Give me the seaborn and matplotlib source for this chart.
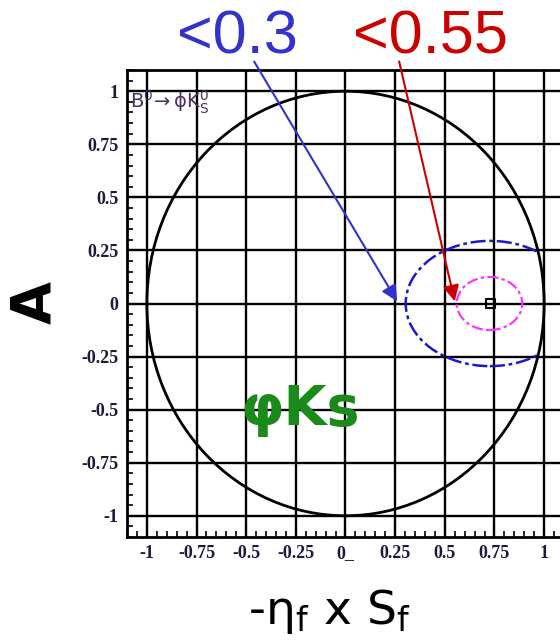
import numpy as np
import matplotlib
matplotlib.use("Agg")
import matplotlib.pyplot as plt
import seaborn as sns
from matplotlib.patches import Circle, Ellipse

# ---- data ----
tick_values = [-1, -0.75, -0.5, -0.25, 0, 0.25, 0.5, 0.75, 1]
x_tick_labels = ["-1", "-0.75", "-0.5", "-0.25", "0_", "0.25", "0.5", "0.75", "1"]
y_tick_labels = ["-1", "-0.75", "-0.5", "-0.25", "0", "0.25", "0.5", "0.75", "1"]
boundary_radius = 1.0
best_fit_x = [0.73]
best_fit_y = [0.0]
# contours: (center_x, center_y, semi_x, semi_y)
contour_blue = (0.727, 0.0, 0.424, 0.295)
contour_magenta = (0.725, 0.0, 0.165, 0.125)
# arrows: label text, label position, arrow tip
label_blue = "<0.3"
label_red = "<0.55"
arrow_blue_start = (-0.46, 1.14)
arrow_blue_tip = (0.26, 0.01)
arrow_red_start = (0.27, 1.14)
arrow_red_tip = (0.55, 0.01)

sns.set_theme(style="white")
plt.rcParams['font.family'] = ['DejaVu Sans']

fig = plt.figure(figsize=(5.6, 6.44), dpi=100)
ax = fig.add_axes([127/560, (644-537)/644, (564-127)/560, (537-70)/644])
ax.set_xlim(-1.1, 1.1)
ax.set_ylim(-1.1, 1.1)

# grid
for v in tick_values:
    ax.axvline(v, color="black", lw=1.7, zorder=1)
    ax.axhline(v, color="black", lw=1.7, zorder=1)

# boundary circle
circ = Circle((0, 0), boundary_radius, fill=False, ec="black", lw=2.0, zorder=3)
ax.add_patch(circ)
clip = Circle((0, 0), boundary_radius, transform=ax.transData)

cx, cy, sx, sy = contour_blue
eb = Ellipse((cx, cy), 2*sx, 2*sy, fill=False, ec="#1a1acc", lw=1.8,
             ls=(0, (6, 1.5, 1.5, 1.5)), zorder=2)
ax.add_patch(eb)
eb.set_clip_path(clip)

cx, cy, sx, sy = contour_magenta
em = Ellipse((cx, cy), 2*sx, 2*sy, fill=False, ec="#ff33ff", lw=1.6,
             ls=(0, (5, 1.5, 1.5, 1.5)), zorder=2)
ax.add_patch(em)

sns.scatterplot(x=best_fit_x, y=best_fit_y, ax=ax, marker="s", s=35,
                facecolor="none", edgecolor="black", linewidth=1.5, zorder=4)

# ticks
ax.set_xticks(tick_values)
ax.set_yticks(tick_values)
ax.set_xticklabels(x_tick_labels)
ax.set_yticklabels(y_tick_labels)
ax.set_xticks(np.arange(-1.1, 1.101, 0.05), minor=True)
ax.set_yticks(np.arange(-1.1, 1.101, 0.05), minor=True)
ax.tick_params(which="major", direction="in", length=8, width=1.5, color="black",
               left=True, bottom=True, labelsize=13, pad=6)
ax.tick_params(which="minor", direction="in", length=4, width=1.2, color="black",
               left=True, bottom=True)
for lab in ax.get_xticklabels() + ax.get_yticklabels():
    lab.set_fontfamily("Liberation Serif")
    lab.set_fontweight("bold")
    lab.set_color("#1a1a3a")
for sp in ax.spines.values():
    sp.set_color("black")
    sp.set_linewidth(2)

ax.text(-1.085, 0.95, r"$\mathrm{B^0\!\rightarrow\phi K^0_S}$", fontsize=14,
        color="#4a3060", va="center", ha="left", zorder=5)

ax.text(-0.23, -0.5, "\u03c6Ks", fontsize=40, color="#1a8a1a", fontweight="bold",
        ha="center", va="center", family="DejaVu Sans", zorder=5)

# arrows and labels
ax.annotate("", xy=arrow_blue_tip, xytext=arrow_blue_start,
            arrowprops=dict(arrowstyle="-|>", color="#3333cc", lw=1.5,
                            mutation_scale=24, shrinkA=0, shrinkB=0),
            annotation_clip=False, zorder=6)
ax.annotate("", xy=arrow_red_tip, xytext=arrow_red_start,
            arrowprops=dict(arrowstyle="-|>", color="#cc0000", lw=1.5,
                            mutation_scale=24, shrinkA=0, shrinkB=0),
            annotation_clip=False, zorder=6)
fig.text(237/560, 1-38/644, label_blue, fontsize=44, color="#3333cc",
         ha="center", va="center", family="Liberation Sans")
fig.text(431/560, 1-38/644, label_red, fontsize=44, color="#cc0000",
         ha="center", va="center", family="Liberation Sans")

fig.text(35/560, 1-303/644, "A", fontsize=40, rotation=90, color="black",
         fontweight="bold", ha="center", va="center", family="DejaVu Sans")
fig.text(330/560, 1-612/644, "-\u03b7$_\\mathrm{f}$ x S$_\\mathrm{f}$", fontsize=34,
         color="black", ha="center", va="center", family="DejaVu Sans")

fig.savefig("out.png", dpi=100)
